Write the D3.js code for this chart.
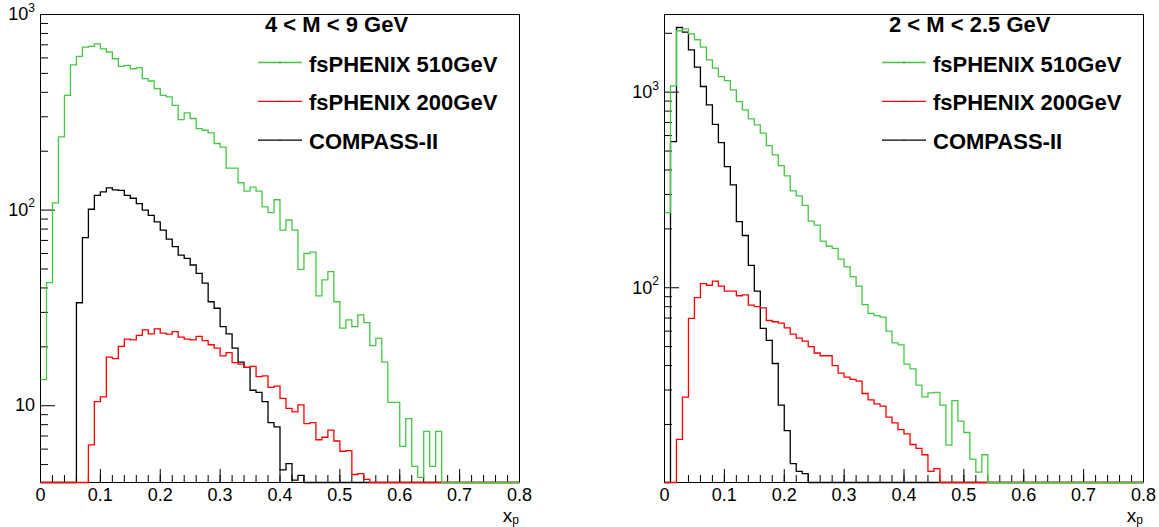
<!DOCTYPE html>
<html>
<head>
<meta charset="utf-8">
<script src="https://cdn.jsdelivr.net/npm/d3@7"></script>
<style>
    body { margin: 0; background: #fff; }
    text { font-family: "Liberation Sans", Arial, Helvetica, sans-serif; fill: #000; }
</style>
</head>
<body>
<svg width="1159" height="527"></svg>
<script>
"use strict";

// Histogram binning: x_p from 0 to 0.8, 80 bins
var xMin = 0, xMax = 0.8, binWidth = 0.01;

// Axis tick labels
var xTickValues = [0, 0.1, 0.2, 0.3, 0.4, 0.5, 0.6, 0.7, 0.8];
var xTickLabels = ["0", "0.1", "0.2", "0.3", "0.4", "0.5", "0.6", "0.7", "0.8"];

// Legend entries
var seriesNames = ["fsPHENIX 510GeV", "fsPHENIX 200GeV", "COMPASS-II"];
var seriesColors = ["#44c844", "#ff0000", "#000000"];

// Left panel: 4 < M < 9 GeV
var leftTitle = "4 < M < 9 GeV";
var leftYRange = [4.05, 1000];
var leftYLabels = [[10, "10", ""], [100, "10", "2"], [1000, "10", "3"]];
var left510 = [
    13.6, 42.6, 109, 237, 386, 553, 611, 681, 687, 708,
    668, 643, 594, 543, 550, 528, 535, 470, 457, 418,
    386, 379, 343, 290, 314, 294, 261, 256, 248, 219,
    210, 164, 164, 138, 125, 131, 125, 104, 97, 113,
    79, 89, 79, 49.8, 60, 61, 36.4, 44, 48.5, 34,
    24.9, 27.5, 25.4, 29.1, 26.6, 20.3, 22.1, 16.7, 10.4, 10.4,
    6.2, 8.6, 4.9, 4.3, 7.4, 4.9, 7.4, 0, 0, 0,
    0, 0, 0, 0, 0, 0, 0, 0, 0, 0
];
var left200 = [
    0, 0, 0, 0, 0, 0, 0, 0, 6.3, 10.5,
    11.1, 17.7, 17.4, 20.1, 21.9, 21.7, 22.9, 24.4, 23.3, 24.7,
    23.5, 23.2, 23.9, 22.4, 21.9, 21.7, 22.6, 21.5, 20.5, 19.7,
    18, 18.7, 16.6, 16.3, 15.7, 15.9, 14.1, 14.2, 12.4, 12.6,
    10.9, 9.7, 9.3, 10.1, 8.1, 8.2, 6.7, 6.9, 7.5, 6.6,
    5.85, 5.9, 4.45, 4.5, 4.2, 0, 0, 0, 0, 0,
    0, 0, 0, 0, 0, 0, 0, 0, 0, 0,
    0, 0, 0, 0, 0, 0, 0, 0, 0, 0
];
var leftCompass = [
    0, 0, 0, 0, 0, 0, 33.6, 72.3, 101, 119,
    124, 130, 127, 126, 119, 115, 108, 100, 94, 87,
    79, 71, 65, 58.9, 56.7, 52.4, 47.5, 42.3, 34, 31.5,
    25.4, 23.3, 19.7, 16.7, 15.7, 12, 11.7, 10.5, 8.2, 7.8,
    4.7, 5.06, 4.16, 4.4, 0, 0, 0, 0, 0, 0,
    0, 0, 0, 0, 0, 0, 0, 0, 0, 0,
    0, 0, 0, 0, 0, 0, 0, 0, 0, 0,
    0, 0, 0, 0, 0, 0, 0, 0, 0, 0
];

// Right panel: 2 < M < 2.5 GeV
var rightTitle = "2 < M < 2.5 GeV";
var rightYRange = [10.1, 2495];
var rightYLabels = [[100, "10", "2"], [1000, "10", "3"]];
var right510 = [
    242, 1077, 2061, 2109, 1987, 1853, 1700, 1463, 1327, 1202,
    1146, 1027, 895, 812, 730, 680, 617, 533, 478, 421,
    373, 313, 295, 264, 219, 209, 173, 163, 159, 140,
    128, 114, 102, 82, 74, 72, 70.8, 60, 52.3, 51,
    40.7, 38.5, 31.8, 27.7, 29, 29.2, 25.1, 15.7, 26.5, 20.8,
    18.2, 13.3, 11.4, 14, 0, 0, 0, 0, 0, 0,
    0, 0, 0, 0, 0, 0, 0, 0, 0, 0,
    0, 0, 0, 0, 0, 0, 0, 0, 0, 0
];
var right200 = [
    0, 0, 16.8, 27.6, 69.7, 89, 105, 103, 108, 102,
    96, 96, 91, 92, 81.5, 80, 79, 68, 67, 66,
    62.4, 58, 55.3, 53.4, 50, 46.4, 44.9, 44.9, 40, 36.6,
    34.9, 34, 33.3, 28.8, 26.7, 25.5, 24.8, 21.8, 20.4, 18.8,
    17.9, 15.8, 15.1, 14, 11.5, 11.9, 0, 0, 0, 0,
    0, 0, 0, 0, 0, 0, 0, 0, 0, 0,
    0, 0, 0, 0, 0, 0, 0, 0, 0, 0,
    0, 0, 0, 0, 0, 0, 0, 0, 0, 0
];
var rightCompass = [
    0, 559, 2141, 2028, 1645, 1343, 1069, 861, 685, 552,
    416, 336, 218, 185, 130, 96, 62, 53.8, 41, 25.1,
    18.6, 12.6, 11.5, 11.2, 0, 0, 0, 0, 0, 0,
    0, 0, 0, 0, 0, 0, 0, 0, 0, 0,
    0, 0, 0, 0, 0, 0, 0, 0, 0, 0,
    0, 0, 0, 0, 0, 0, 0, 0, 0, 0,
    0, 0, 0, 0, 0, 0, 0, 0, 0, 0,
    0, 0, 0, 0, 0, 0, 0, 0, 0, 0
];

var svg = d3.select("svg");
var frameTop = 14, frameBottom = 482;

var drawPanel = function(left, right, yRange, yLabels, title, series) {

    var x = d3.scaleLinear().domain([xMin, xMax]).range([left, right]);
    var y = d3.scaleLog().domain(yRange).range([frameBottom, frameTop]);
    var g = svg.append("g");

    // Frame
    g.append("rect")
        .attr("x", left + 0.5)
        .attr("y", frameTop + 0.5)
        .attr("width", right - left)
        .attr("height", frameBottom - frameTop)
        .attr("fill", "none")
        .attr("stroke", "#000")
        .attr("stroke-width", 1);

    // x minor ticks every 0.02
    var xMinor = d3.range(0, 41).map(function(i) { return i * 0.02; });
    g.append("g")
        .attr("transform", "translate(0," + frameBottom + ")")
        .call(d3.axisBottom(x).tickValues(xMinor).tickSize(-7).tickFormat(""))
        .call(function(s) { s.select(".domain").remove(); });

    // x major ticks + labels
    g.append("g")
        .attr("transform", "translate(0," + frameBottom + ")")
        .call(d3.axisBottom(x).tickValues(xTickValues).tickSize(-13).tickPadding(6)
            .tickFormat(function(d, i) { return xTickLabels[i]; }))
        .call(function(s) {
            s.select(".domain").remove();
            s.selectAll("text").attr("font-size", "18px").attr("font-family", null);
        });

    // y minor ticks (2..9 per decade)
    var yMinor = [];
    for (var d = Math.floor(Math.log10(yRange[0])); d <= Math.ceil(Math.log10(yRange[1])); d++) {
        for (var k = 2; k <= 9; k++) {
            var v = k * Math.pow(10, d);
            if (v >= yRange[0] && v <= yRange[1]) yMinor.push(v);
        }
    }
    g.append("g")
        .attr("transform", "translate(" + left + ",0)")
        .call(d3.axisLeft(y).tickValues(yMinor).tickSize(-8).tickFormat(""))
        .call(function(s) { s.select(".domain").remove(); });

    // y major ticks + labels like 10^2
    g.append("g")
        .attr("transform", "translate(" + left + ",0)")
        .call(d3.axisLeft(y).tickValues(yLabels.map(function(l) { return l[0]; }))
            .tickSize(-15).tickPadding(5).tickFormat(""))
        .call(function(s) {
            s.select(".domain").remove();
            s.selectAll("text").each(function(d, i) {
                var t = d3.select(this)
                    .attr("font-size", "18px")
                    .attr("font-family", null)
                    .text(yLabels[i][1]);
                if (yLabels[i][2]) {
                    t.append("tspan")
                        .attr("font-size", "12px")
                        .attr("dy", "-0.7em")
                        .text(yLabels[i][2]);
                }
            });
        });

    // Histograms (black, red, green order so green sits on top)
    var line = d3.line()
        .curve(d3.curveStepAfter)
        .x(function(p) { return x(p[0]) + 0.5; })
        .y(function(p) { return y(Math.min(Math.max(p[1], yRange[0]), yRange[1])) + 0.5; });

    [2, 1, 0].forEach(function(s) {
        var pts = series[s].map(function(v, i) { return [i * binWidth, v]; });
        pts.push([xMax, series[s][series[s].length - 1]]);
        g.append("path")
            .attr("d", line(pts))
            .attr("fill", "none")
            .attr("stroke", seriesColors[s])
            .attr("stroke-width", 1.3);
    });

    // Title
    g.append("text")
        .attr("x", left + 225)
        .attr("y", 32)
        .attr("font-size", "22px")
        .attr("font-weight", "bold")
        .text(title);

    // Legend
    seriesNames.forEach(function(name, i) {
        var ly = 62.5 + i * 38.8;
        g.append("line")
            .attr("x1", left + 218).attr("x2", left + 262)
            .attr("y1", ly).attr("y2", ly)
            .attr("stroke", seriesColors[i])
            .attr("stroke-width", 1.3);
        g.append("rect")
            .attr("x", left + 239.5).attr("y", ly - 0.5)
            .attr("width", 1).attr("height", 1)
            .attr("fill", "#000");
        g.append("text")
            .attr("x", left + 269)
            .attr("y", ly + 9)
            .attr("font-size", "22px")
            .attr("font-weight", "bold")
            .text(name);
    });

    // Axis title x_p, tucked under the last tick label
    var xt = g.append("text")
        .attr("x", right)
        .attr("y", 522)
        .attr("text-anchor", "end")
        .attr("font-size", "19px")
        .text("x");
    xt.append("tspan")
        .attr("font-size", "12px")
        .attr("dy", "2")
        .text("p");
};

drawPanel(40, 519, leftYRange, leftYLabels, leftTitle, [left510, left200, leftCompass]);
drawPanel(664, 1143, rightYRange, rightYLabels, rightTitle, [right510, right200, rightCompass]);
</script>
</body>
</html>
